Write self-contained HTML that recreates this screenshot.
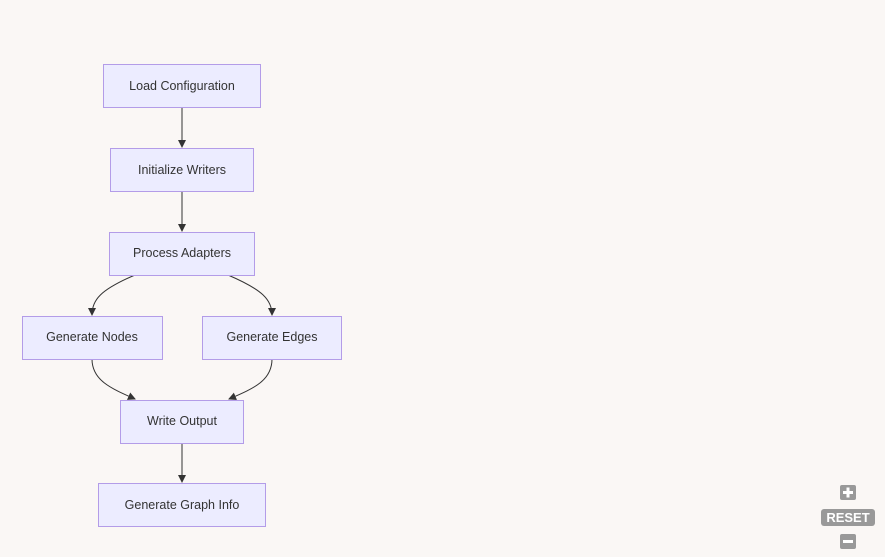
<!DOCTYPE html>
<html><head><style>
html,body{margin:0;padding:0;background:#faf7f5;width:885px;height:557px;overflow:hidden;font-family:"Liberation Sans",sans-serif}
</style></head><body>
<svg width="885" height="557" xmlns="http://www.w3.org/2000/svg" style="position:absolute;left:0;top:0">
<defs><marker id="a" markerWidth="8" markerHeight="8" refX="7" refY="4" orient="auto" markerUnits="userSpaceOnUse"><path d="M0,0L8,4L0,8z" fill="#333"/></marker></defs>
<g fill="none" stroke="#333" stroke-width="1">
<path d="M182,107V147" marker-end="url(#a)"/>
<path d="M182,191V231" marker-end="url(#a)"/>
<path d="M135,275C100,290 92,300 92,315" marker-end="url(#a)"/>
<path d="M228,275C263,290 272,300 272,315" marker-end="url(#a)"/>
<path d="M92,359C92,380 110,388 135,399" marker-end="url(#a)"/>
<path d="M272,359C272,380 255,388 229,399" marker-end="url(#a)"/>
<path d="M182,443V482" marker-end="url(#a)"/>
</g>
<g fill="#ececff" stroke="#b39ce8" stroke-width="1">
<rect x="103.5" y="64.5" width="157" height="43"/>
<rect x="110.5" y="148.5" width="143" height="43"/>
<rect x="109.5" y="232.5" width="145" height="43"/>
<rect x="22.5" y="316.5" width="140" height="43"/>
<rect x="202.5" y="316.5" width="139" height="43"/>
<rect x="120.5" y="400.5" width="123" height="43"/>
<rect x="98.5" y="483.5" width="167" height="43"/>
</g>
<g font-family="Liberation Sans,sans-serif" font-size="12.5" fill="#333" text-anchor="middle">
<text x="182" y="90">Load Configuration</text>
<text x="182" y="174">Initialize Writers</text>
<text x="182" y="257">Process Adapters</text>
<text x="92" y="341">Generate Nodes</text>
<text x="272" y="341">Generate Edges</text>
<text x="182" y="425">Write Output</text>
<text x="182" y="509">Generate Graph Info</text>
</g>
<g fill="#999">
<rect x="840" y="485" width="16" height="15" rx="2"/>
<rect x="821" y="509" width="54" height="17" rx="3"/>
<rect x="840" y="534" width="16" height="15" rx="2"/>
</g>
<g fill="#fff">
<rect x="843" y="491" width="10" height="3"/><rect x="846.5" y="487.5" width="3" height="10"/>
<rect x="843" y="540" width="10" height="3"/>
</g>
<text x="848" y="522" font-family="Liberation Sans,sans-serif" font-weight="bold" font-size="13" fill="#fff" text-anchor="middle">RESET</text>
</svg>
</body></html>
